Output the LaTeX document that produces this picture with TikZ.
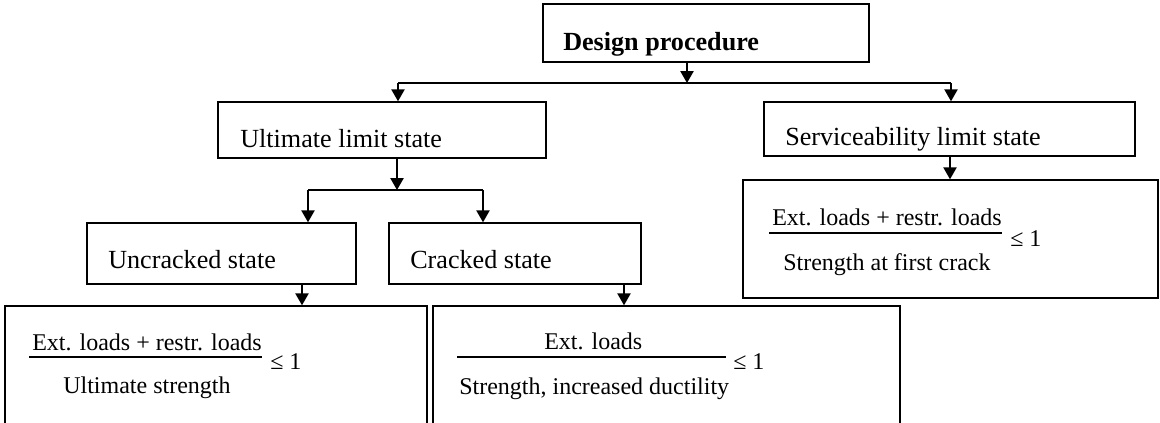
\documentclass[tikz,border=0pt]{standalone}
\usepackage{fontspec}
\setmainfont{Liberation Serif}
\usetikzlibrary{arrows.meta,calc}
\tikzset{
  box/.style={draw, line width=1.1pt, rectangle, inner sep=0pt},
  head/.style={anchor=base west, inner sep=0pt, font=\fontsize{19.6}{22}\selectfont},
  frac/.style={anchor=base west, inner sep=0pt, font=\fontsize{18}{21}\selectfont},
  arr/.style={line width=1.1pt, -{Triangle[length=9pt,width=10pt]}},
  conn/.style={line width=1.1pt},
  bar/.style={line width=0.8pt}
}
\newcommand{\boxat}[5]{\node[box, minimum width={(#4-#2)*0.75pt}, minimum height={(#5-#3)*0.75pt}] (#1) at ({(#2+#4)/2},{(#3+#5)/2}) {};}
\begin{document}
\begin{tikzpicture}[x=0.75pt,y=-0.75pt]
\useasboundingbox (0,0) rectangle (1160,422);
\clip (0,0) rectangle (1160,422);
% boxes
\boxat{dp}{543}{4}{869}{62}
\boxat{uls}{218}{102}{546}{158}
\boxat{sls}{764}{102}{1135}{156}
\boxat{unc}{87}{223}{356}{284}
\boxat{cra}{389}{223}{641}{284}
\boxat{ub}{5}{306}{427}{460}
\boxat{cb}{433}{306}{900}{460}
\boxat{sb}{743}{180}{1158}{298}
% titles
\node[head, font=\fontsize{19.6}{22}\selectfont\bfseries] (tdp) at (563,50) {Design procedure};
\node[head] (tuls) at (240,147) {Ultimate limit state};
\node[head] (tsls) at (785,145) {Serviceability limit state};
\node[head] (tunc) at (108,268) {Uncracked state};
\node[head] (tcra) at (410,268) {Cracked state};
% connectors
\coordinate (j1) at (687,83);
\coordinate (jl) at (398,83);
\coordinate (jr) at (951,83);
\draw[arr] (dp.south -| j1) -- (j1);
\draw[conn] (jl) -- (jr);
\draw[arr] (jl) -- (uls.north -| jl);
\draw[arr] (jr) -- (sls.north -| jr);
\coordinate (j2) at (397,190);
\coordinate (j2l) at (308,190);
\coordinate (j2r) at (483,190);
\draw[arr] (uls.south -| j2) -- (j2);
\draw[conn] (j2l) -- (j2r);
\draw[arr] (j2l) -- (unc.north -| j2l);
\draw[arr] (j2r) -- (cra.north -| j2r);
\coordinate (j3) at (302,0);
\coordinate (j4) at (624,0);
\coordinate (j5) at (950,0);
\draw[arr] (unc.south -| j3) -- (ub.north -| j3);
\draw[arr] (cra.south -| j4) -- (cb.north -| j4);
\draw[arr] (sls.south -| j5) -- (sb.north -| j5);
% fractions - left
\node[frac] (n1) at (32,350) {Ext. loads + restr. loads};
\draw[bar] (29,357) coordinate (b1a) -- (262,357) coordinate (b1b);
\node[frac] (le1) at (270,369) {≤ 1};
\node[frac] (d1) at (63,393) {Ultimate strength};
% fractions - cracked
\node[frac] (n2) at (544,349) {Ext. loads};
\draw[bar] (457,357) coordinate (b2a) -- (726,357) coordinate (b2b);
\node[frac] (le2) at (733,369) {≤ 1};
\node[frac] (d2) at (459,394) {Strength, increased ductility};
% fractions - service
\node[frac] (n3) at (772,225) {Ext. loads + restr. loads};
\draw[bar] (769,233) coordinate (b3a) -- (1002,233) coordinate (b3b);
\node[frac] (le3) at (1010,246) {≤ 1};
\node[frac] (d3) at (783,270) {Strength at first crack};
\end{tikzpicture}
\end{document}
